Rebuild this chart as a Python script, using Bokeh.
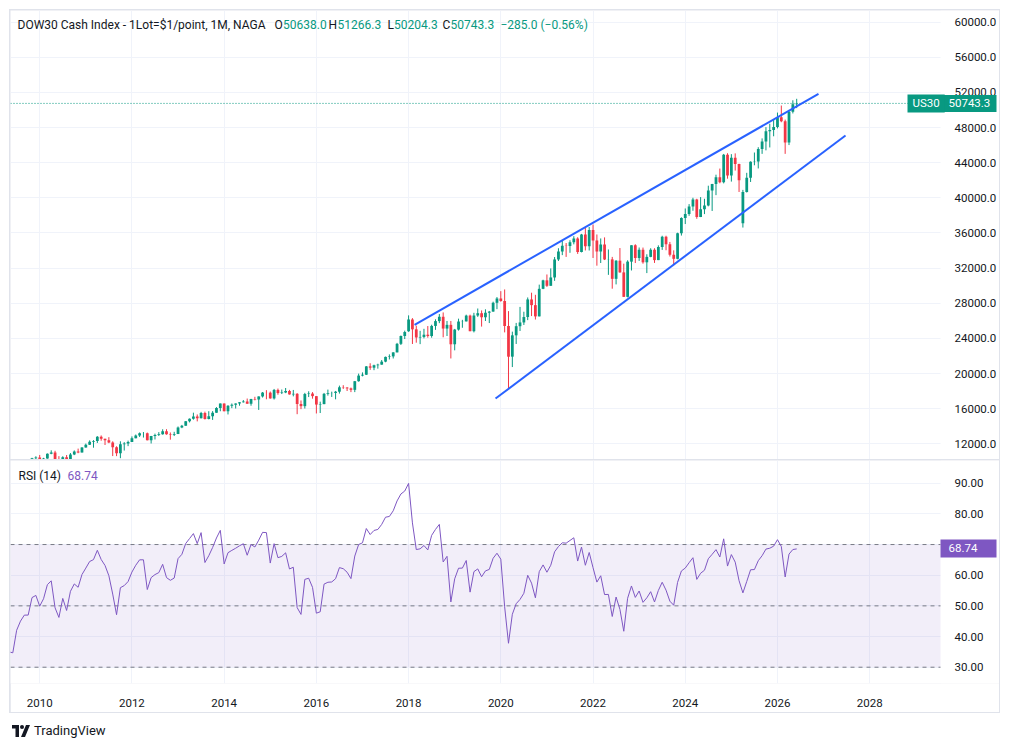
import numpy as np
from bokeh.plotting import figure
from bokeh.models import (Range1d, FixedTicker, PrintfTickFormatter, Span, Label,
                          BoxAnnotation, ColumnDataSource, Div, LinearAxis)
from bokeh.layouts import column
from bokeh.embed import file_html
from bokeh.resources import INLINE

# ---------------- data (monthly, Jan 2009 .. Jun 2026) ----------------
first_year = 2009
opens = [
    8772, 8001, 7063, 7609, 8168, 8500, 8447, 9172, 9496, 9712, 9713, 10345,
    10428, 10067, 10325, 10857, 11009, 10137, 9774, 10466, 10015, 10788, 11118, 11006,
    11578, 11892, 12226, 12320, 12811, 12570, 12414, 12143, 11614, 10913, 11955, 12046,
    12218, 12633, 12952, 13212, 13214, 12393, 12880, 13009, 13091, 13437, 13096, 13026,
    13104, 13861, 14054, 14579, 14840, 15116, 14910, 15500, 14810, 15130, 15546, 16086,
    16577, 15699, 16322, 16458, 16581, 16717, 16827, 16563, 17098, 17043, 17391, 17828,
    17823, 17165, 18133, 17776, 17841, 18011, 17620, 17690, 16528, 16285, 17664, 17720,
    17425, 16466, 16517, 17685, 17774, 17787, 17930, 18432, 18401, 18308, 18142, 19124,
    19763, 19864, 20812, 20663, 20941, 21009, 21350, 21891, 21948, 22405, 23377, 24272,
    24809, 26149, 25029, 24103, 24163, 24416, 24271, 25415, 25965, 26458, 25116, 25538,
    23327, 25000, 25916, 25929, 26593, 24815, 26600, 26864, 26403, 26917, 27046, 28051,
    28538, 28256, 25409, 21917, 24346, 25383, 25813, 26428, 28430, 27782, 26502, 29639,
    30606, 29983, 30932, 32982, 33875, 34529, 34503, 34935, 35361, 33844, 35820, 34484,
    36338, 35132, 33893, 34678, 32977, 32990, 30775, 32845, 31510, 28726, 32733, 34590,
    33147, 34086, 32657, 33274, 34098, 32908, 34408, 35560, 34722, 33508, 33053, 35951,
    37690, 38150, 38996, 39807, 37816, 38686, 39119, 40843, 41563, 42330, 41763, 44911,
    42544, 44545, 43841, 37100, 40669, 42270, 44095, 44131, 45545, 46398, 47563, 47716,
    48063, 49180, 48700, 46300, 49800, 50638.0,
]
highs = [
    9088, 8280, 7932, 8260, 8588, 8878, 9288, 9630, 9918, 10119, 10406, 10580,
    10729, 10403, 10908, 11258, 11205, 10595, 10581, 10720, 10948, 11245, 11452, 11625,
    12021, 12391, 12419, 12876, 12950, 12580, 12753, 12284, 11716, 12285, 12188, 12361,
    12840, 13055, 13290, 13338, 13280, 12898, 13158, 13330, 13653, 13661, 13290, 13365,
    13969, 14150, 14586, 14888, 15542, 15340, 15634, 15658, 15709, 15721, 16174, 16589,
    16588, 16398, 16588, 16604, 16736, 16978, 17152, 17120, 17350, 17395, 17894, 18103,
    17951, 18244, 18289, 18175, 18351, 18137, 18130, 17771, 16933, 17799, 17977, 17885,
    17425, 16795, 17790, 18168, 17934, 18016, 18623, 18668, 18450, 18400, 19152, 19988,
    20126, 20851, 21169, 21006, 21112, 21535, 21929, 22179, 22420, 23485, 24328, 24876,
    26617, 26306, 25450, 24858, 25087, 25403, 25552, 26168, 26770, 26952, 25980, 25980,
    25076, 26242, 26109, 26696, 26696, 26907, 27399, 27180, 27306, 27122, 28175, 28702,
    29374, 29568, 27102, 24765, 25759, 27581, 27032, 28655, 29199, 28958, 30116, 30674,
    31272, 31962, 33259, 34257, 35091, 34849, 35171, 35631, 35510, 35892, 36565, 36680,
    36952, 35824, 35372, 35493, 34118, 33272, 32899, 34281, 32504, 32889, 34595, 34712,
    34342, 34335, 33572, 34257, 34257, 34589, 35679, 35680, 34977, 34017, 36026, 37778,
    38783, 39282, 40003, 39889, 40078, 39889, 41376, 41586, 42628, 43325, 44990, 45074,
    44966, 45055, 43879, 40900, 42843, 44150, 45153, 45757, 46760, 48040, 48431, 48886,
    49700, 50500, 48900, 50000, 51100, 51266.3,
]
lows = [
    7909, 7034, 6470, 7550, 8050, 8221, 8088, 9051, 9253, 9487, 9679, 10234,
    10022, 9835, 10300, 10813, 9774, 9757, 9614, 9936, 10010, 10711, 10929, 11002,
    11560, 11874, 11555, 12093, 12351, 11862, 12070, 10605, 10597, 10362, 11231, 11735,
    12217, 12626, 12780, 12710, 12392, 12035, 12492, 12888, 13036, 13034, 12471, 12883,
    13104, 13780, 14054, 14434, 14747, 14551, 14888, 14760, 14778, 14719, 15530, 15703,
    15698, 15341, 16058, 16015, 16333, 16697, 16560, 16334, 16945, 15855, 17264, 17068,
    17136, 17038, 17585, 17664, 17765, 17597, 17399, 15370, 15942, 16013, 17320, 17138,
    15451, 15503, 16506, 17484, 17331, 17063, 17713, 18247, 18010, 17884, 17883, 19069,
    19677, 19831, 20413, 20379, 20554, 21005, 21279, 21600, 21709, 22405, 23242, 23922,
    24741, 23360, 23509, 23344, 23997, 24078, 24077, 24965, 25732, 24122, 24268, 21713,
    22638, 24883, 25208, 25929, 24811, 24680, 26445, 25339, 25978, 25743, 27040, 27325,
    28170, 24681, 18213, 20735, 23361, 24843, 25524, 26076, 26537, 26143, 26502, 29601,
    29856, 29983, 30548, 32807, 33474, 33271, 33741, 34700, 33613, 33786, 34006, 34000,
    33150, 32273, 32578, 32913, 31228, 29653, 30143, 31470, 28715, 28661, 31728, 32573,
    32812, 32500, 31430, 33235, 32587, 32908, 34070, 34030, 33316, 32327, 33000, 35700,
    37012, 37950, 38523, 37612, 37800, 38146, 39028, 38500, 40300, 41650, 41640, 42176,
    41844, 43100, 40661, 36612, 40600, 41800, 43700, 43340, 45000, 45400, 45728, 47000,
    47900, 48600, 45000, 46000, 49600, 50204.3,
]
closes = [
    8001, 7063, 7609, 8168, 8500, 8447, 9172, 9496, 9712, 9713, 10345, 10428,
    10067, 10325, 10857, 11009, 10137, 9774, 10466, 10015, 10788, 11118, 11006, 11578,
    11892, 12226, 12320, 12811, 12570, 12414, 12143, 11614, 10913, 11955, 12046, 12218,
    12633, 12952, 13212, 13214, 12393, 12880, 13009, 13091, 13437, 13096, 13026, 13104,
    13861, 14054, 14579, 14840, 15116, 14910, 15500, 14810, 15130, 15546, 16086, 16577,
    15699, 16322, 16458, 16581, 16717, 16827, 16563, 17098, 17043, 17391, 17828, 17823,
    17165, 18133, 17776, 17841, 18011, 17620, 17690, 16528, 16285, 17664, 17720, 17425,
    16466, 16517, 17685, 17774, 17787, 17930, 18432, 18401, 18308, 18142, 19124, 19763,
    19864, 20812, 20663, 20941, 21009, 21350, 21891, 21948, 22405, 23377, 24272, 24719,
    26149, 25029, 24103, 24163, 24416, 24271, 25415, 25965, 26458, 25116, 25538, 23327,
    25000, 25916, 25929, 26593, 24815, 26600, 26864, 26403, 26917, 27046, 28051, 28538,
    28256, 25409, 21917, 24346, 25383, 25813, 26428, 28430, 27782, 26502, 29639, 30606,
    29983, 30932, 32982, 33875, 34529, 34503, 34935, 35361, 33844, 35820, 34484, 36338,
    35132, 33893, 34678, 32977, 32990, 30775, 32845, 31510, 28726, 32733, 34590, 33147,
    34086, 32657, 33274, 34098, 32908, 34408, 35560, 34722, 33508, 33053, 35951, 37690,
    38150, 38996, 39807, 37816, 38686, 39119, 40843, 41563, 42330, 41763, 44911, 42544,
    44545, 43841, 42002, 40669, 42270, 44095, 44131, 45545, 46398, 47563, 47716, 48063,
    49180, 48700, 46300, 49800, 50638, 50743.3,
]
# monthly closes Jan 2006 .. Dec 2008, only used to warm up the RSI
prior_closes = [
    10865, 10993, 11109, 11367, 11168, 11150, 11186, 11381, 11679, 12081, 12222, 12463,
    12622, 12269, 12354, 13063, 13628, 13409, 13212, 13358, 13896, 13930, 13372, 13265,
    12650, 12266, 12263, 12820, 12638, 11350, 11378, 11544, 10851, 9325, 8829, 8776,
]

price_ticks = [12000, 16000, 20000, 24000, 28000, 32000, 36000, 40000, 44000, 48000, 52000, 56000, 60000]
rsi_ticks = [30, 40, 50, 60, 70, 80, 90]
rsi_levels = [70, 50, 30]
year_ticks = [2010, 2012, 2014, 2016, 2018, 2020, 2022, 2024, 2026, 2028]

# trend lines (time in fractional years, price)
upper_t = [2018.13, 2026.89]
upper_p = [25544, 51836]
lower_t = [2019.886, 2027.476]
lower_p = [17156, 47090]

last_price = 50743.3
rsi_last = 68.74
symbol = "US30"
title_text = "DOW30 Cash Index - 1Lot=$1/point, 1M, NAGA"
ohlc_text = [("O", "50638.0"), ("H", "51266.3"), ("L", "50204.3"), ("C", "50743.3")]
change_text = "\u2212285.0 (\u22120.56%)"

# ---------------- styling ----------------
FONT = "Roboto"
TXT = "#131722"
UP = "#089981"
DOWN = "#F23645"
RSI_C = "#7E57C2"
GRID = "#F0F3FA"
BORDER = "#E0E3EB"
TREND = "#2962FF"
FS = "11.5px"
LFS = "12px"

# x range spans the whole pane; the price scale sits at X_AX (right edge of the chart area)
X0, X_AX, X1 = 2009.3667, 2029.536, 2030.815

o = np.array(opens, float); h = np.array(highs, float)
l = np.array(lows, float); c = np.array(closes, float)
n = len(c)
t = first_year + np.arange(n) / 12.0

# RSI(14), Wilder smoothing as in TradingView
allc = np.array(prior_closes + closes, float)
d = np.diff(allc)
gain = np.clip(d, 0, None)
loss = np.clip(-d, 0, None)


def rma(x, k=14):
    out = np.full(len(x), np.nan)
    out[k - 1] = x[:k].mean()
    for i in range(k, len(x)):
        out[i] = (out[i - 1] * (k - 1) + x[i]) / k
    return out


ag, al = rma(gain), rma(loss)
rsi_all = 100 - 100 / (1 + ag / al)
rsi = rsi_all[-n:]


def style_axis(a):
    a.axis_line_color = None
    a.major_tick_line_color = None
    a.minor_tick_line_color = None
    a.major_label_text_font = FONT
    a.major_label_text_font_size = FS
    a.major_label_text_color = TXT


def price_scale(p, ticks, fmt):
    a = LinearAxis(ticker=FixedTicker(ticks=ticks), formatter=PrintfTickFormatter(format=fmt),
                   fixed_location=X_AX)
    style_axis(a)
    a.major_label_standoff = 8
    p.add_layout(a, "right")


def badge_axis(p, value, fmt, color, hgt):
    # a value tag on the price scale: a fixed-location axis with a single thick tick
    a = LinearAxis(ticker=FixedTicker(ticks=[value]), formatter=PrintfTickFormatter(format=fmt),
                   fixed_location=X_AX)
    a.axis_line_color = None
    a.minor_tick_line_color = None
    a.major_tick_in = 0
    a.major_tick_out = 56
    a.major_tick_line_color = color
    a.major_tick_line_width = hgt
    a.major_tick_line_cap = "butt"
    a.major_label_standoff = -48
    a.major_label_text_color = "white"
    a.major_label_text_font = FONT
    a.major_label_text_font_size = FS
    p.add_layout(a, "right")


def scale_background(p):
    p.add_layout(BoxAnnotation(left=X_AX, fill_color="white", fill_alpha=1.0,
                               line_color=None, level="glyph"))


def lab(p, text, x, y, color, bg=None, pad=None, size=LFS):
    kw = dict(x=x, y=y, x_units="screen", y_units="data", text=text, text_color=color,
              text_font=FONT, text_font_size=size, text_baseline="middle", text_align="left")
    if bg is not None:
        kw.update(background_fill_color=bg, background_fill_alpha=1.0, padding=pad)
    p.add_layout(Label(**kw))


# ---------------- price pane ----------------
p1 = figure(width=989, height=449, x_range=Range1d(X0, X1), y_range=Range1d(10213, 61317),
            output_backend="svg", toolbar_location=None, x_axis_location=None,
            y_axis_location=None, min_border_left=0, min_border_right=0,
            min_border_top=0, min_border_bottom=0, outline_line_color=None,
            background_fill_color="white", border_fill_color="white")
p1.margin = (1, 1, 0, 1)

p1.ygrid.ticker = FixedTicker(ticks=price_ticks)
p1.ygrid.grid_line_color = GRID
p1.xgrid.ticker = FixedTicker(ticks=year_ticks)
p1.xgrid.grid_line_color = GRID

p1.add_layout(Span(location=last_price, dimension="width", line_color=UP,
                   line_dash="1 2", line_width=1, level="underlay"))

up = c >= o
BW = 0.72 / 12
for mask, col in ((up, UP), (~up, DOWN)):
    src = ColumnDataSource(dict(t=t[mask], h=h[mask], l=l[mask],
                                top=np.maximum(o, c)[mask], bot=np.minimum(o, c)[mask]))
    p1.segment(x0="t", y0="l", x1="t", y1="h", source=src, line_color=col, line_width=1)
    p1.vbar(x="t", width=BW, top="top", bottom="bot", source=src, fill_color=col,
            line_color=None)

p1.line(upper_t, upper_p, line_color=TREND, line_width=2)
p1.line(lower_t, lower_p, line_color=TREND, line_width=2)

scale_background(p1)
price_scale(p1, price_ticks, "%.1f")

# legend (top-left)
LEG_Y = 59700
lab(p1, title_text, 7, LEG_Y, TXT)
xs = [264, 318, 377, 432]
val_dx = [8.5, 9, 6.5, 8]
for (k, v), xx, dx in zip(ohlc_text, xs, val_dx):
    lab(p1, k, xx, LEG_Y, TXT)
    lab(p1, v, xx + dx, LEG_Y, UP)
lab(p1, change_text, 490, LEG_Y, UP)

# price tags
lab(p1, symbol, 897, last_price, "white", bg=UP,
    pad=dict(left=5, right=5, top=2, bottom=2), size=FS)
badge_axis(p1, last_price, "%.1f", UP, 17)

# ---------------- RSI pane ----------------
p2 = figure(width=989, height=252, x_range=p1.x_range, y_range=Range1d(24.69, 97.4),
            output_backend="svg", toolbar_location=None, x_axis_location="below",
            y_axis_location=None, min_border_left=0, min_border_right=0,
            min_border_top=0, min_border_bottom=29, outline_line_color=None,
            background_fill_color="white", border_fill_color="white")
p2.margin = (0, 1, 1, 1)

axx = p2.xaxis[0]
axx.ticker = FixedTicker(ticks=year_ticks)
axx.formatter = PrintfTickFormatter(format="%d")
style_axis(axx)
axx.major_label_standoff = 9
p2.ygrid.ticker = FixedTicker(ticks=rsi_ticks)
p2.ygrid.grid_line_color = GRID
p2.xgrid.ticker = FixedTicker(ticks=year_ticks)
p2.xgrid.grid_line_color = GRID

p2.add_layout(BoxAnnotation(bottom=rsi_levels[-1], top=rsi_levels[0], fill_color=RSI_C,
                            fill_alpha=0.1, line_color=None, level="underlay"))
for lv in rsi_levels:
    p2.add_layout(Span(location=lv, dimension="width", line_color="#787B86",
                       line_dash="4 4", line_width=1, level="underlay"))

p2.line(t, rsi, line_color=RSI_C, line_width=1)

scale_background(p2)
price_scale(p2, rsi_ticks, "%.2f")

lab(p2, "RSI (14)", 8, 92.5, TXT)
lab(p2, "%.2f" % rsi_last, 57, 92.5, RSI_C)
badge_axis(p2, rsi_last, "%.2f", RSI_C, 18)

chart = column(p1, p2, spacing=1, margin=(9, 0, 0, 9),
               styles={"background-color": BORDER})

logo_svg = (
    '<svg width="18" height="12" viewBox="0 0 36 24" style="margin-right:4px">'
    '<path d="M0 0h14v24H7V7H0z" fill="#131722"/>'
    '<circle cx="20" cy="4" r="4" fill="#131722"/>'
    '<path d="M28 0h8l-10 24h-8z" fill="#131722"/>'
    '</svg>'
)
logo = Div(text=('<div style="display:flex;align-items:center;font-family:Roboto;'
                 'font-size:13px;color:#131722;">' + logo_svg + 'TradingView</div>'),
           width=200, height=24, margin=(9, 0, 0, 12))

page = column(chart, logo, spacing=0)

open("out.html", "w").write(file_html(page, INLINE))
